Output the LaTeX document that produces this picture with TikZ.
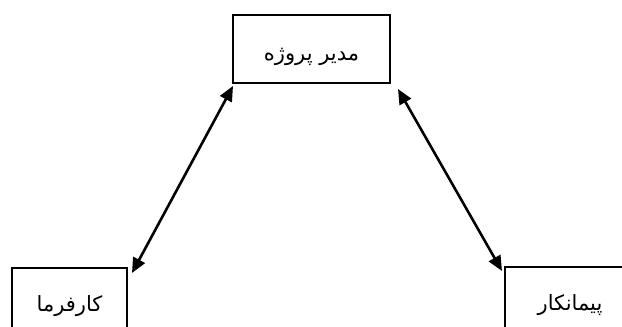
\documentclass[tikz,border=0pt]{standalone}
\usepackage{fontspec}
\newfontfamily\arabicfont[Script=Arabic]{DejaVu Sans}
\TeXXeTstate=1
\usetikzlibrary{arrows.meta,calc}
\begin{document}
\begin{tikzpicture}[x=1pt,y=-1pt,
  box/.style={draw=black,line width=2pt,rectangle,inner sep=0pt,font=\fontsize{21}{25}\selectfont\arabicfont},
  link/.style={line width=2.6pt,{Triangle[length=15pt,width=13pt]}-{Triangle[length=15pt,width=13pt]}}]
\useasboundingbox (0,0) rectangle (622,327);
\clip (0,0) rectangle (622,327);
\node[box,minimum width=157pt,minimum height=68pt,text depth=0pt] (mod) at (311.5,49) {\raisebox{-10pt}{\beginR مدیر پروژه\endR}};
\node[box,minimum width=115pt,minimum height=76pt] (kar) at (69.5,306) {\raisebox{-4pt}{\beginR کارفرما\endR}};
\node[box,minimum width=120pt,minimum height=76pt] (pay) at (565,305) {\hspace{10pt}\raisebox{-4pt}{\beginR پیمانکار\endR}};
\coordinate (a1) at ($(kar.north east)+(4,6)$);
\coordinate (a2) at ($(mod.south west)+(1,2)$);
\coordinate (b1) at ($(mod.south east)+(7,5)$);
\coordinate (b2) at ($(pay.north west)+(-2,5)$);
\draw[link] (a1) -- (a2);
\draw[link] (b1) -- (b2);
\end{tikzpicture}
\end{document}
